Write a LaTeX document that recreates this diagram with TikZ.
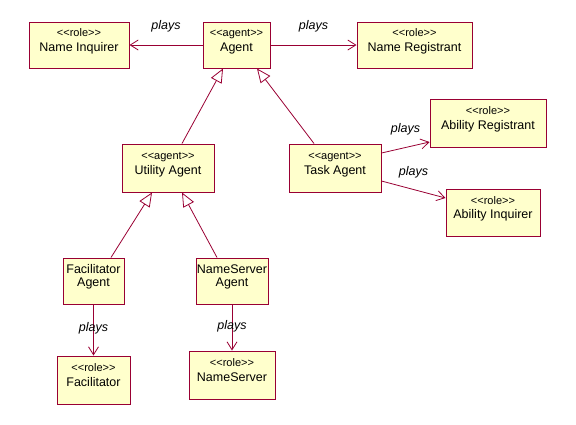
\documentclass[tikz,border=0pt]{standalone}
\usepackage{fontspec}
\setmainfont{Liberation Sans}
\usetikzlibrary{arrows.meta}
\definecolor{umlline}{RGB}{153,0,51}
\definecolor{umlfill}{RGB}{255,255,204}
% box text: stereotype over name, sitting a little above the middle
\newcommand{\stereo}[2]{\raisebox{0pt}[\height][\dimexpr\depth+7pt\relax]{%
  \begin{tabular}{@{}c@{}}{\fontsize{11}{12}\selectfont<{}<#1>{}>}\\[1pt]#2\end{tabular}}}
\newcommand{\plain}[2]{\raisebox{0pt}[\height][\dimexpr\depth+7pt\relax]{%
  \begin{tabular}{@{}c@{}}#1\\#2\end{tabular}}}
\begin{document}
\begin{tikzpicture}[x=1pt,y=1pt,
	box/.style={draw=umlline, fill=umlfill, line width=1pt, inner sep=0pt,
		font=\fontsize{12.5}{13.5}\selectfont},
	playsarrow/.style={draw=umlline, line width=.8pt, -{Straight Barb[length=8pt,width=10pt]}},
	isa/.style={draw=umlline, line width=.8pt, -{Triangle[open,length=14pt,width=12pt]}},
	playslbl/.style={font=\fontsize{12.5}{14}\selectfont\itshape, inner sep=0pt}]
	\useasboundingbox (0,0) rectangle (576,-424);
	% top row
	\node[box, minimum width=100, minimum height=46] (ninq) at (79,-45) {\stereo{role}{Name Inquirer}};
	\node[box, minimum width=67, minimum height=46] (agent) at (236.5,-45) {\stereo{agent}{Agent}};
	\node[box, minimum width=115, minimum height=46] (nreg) at (414.5,-45) {\stereo{role}{Name Registrant}};
	% second row
	\node[box, minimum width=92, minimum height=48] (util) at (168,-168) {\stereo{agent}{Utility Agent}};
	\node[box, minimum width=92, minimum height=48] (task) at (335,-168) {\stereo{agent}{Task Agent}};
	\node[box, minimum width=116, minimum height=48] (areg) at (488,-123) {\stereo{role}{Ability Registrant}};
	\node[box, minimum width=94, minimum height=47] (ainq) at (493,-212.5) {\stereo{role}{Ability Inquirer}};
	% third row
	\node[box, minimum width=61, minimum height=46] (facag) at (93.5,-281) {\plain{Facilitator}{Agent}};
	\node[box, minimum width=72, minimum height=46] (nsag) at (232,-281) {\plain{NameServer}{Agent}};
	% bottom row
	\node[box, minimum width=73, minimum height=48] (fac) at (93.5,-380) {\stereo{role}{Facilitator}};
	\node[box, minimum width=86, minimum height=48] (ns) at (232,-375) {\stereo{role}{NameServer}};
	% plays
	\draw[playsarrow] (agent.west) -- node[playslbl, yshift=19pt] (p1) {plays} (ninq.east);
	\draw[playsarrow] (agent.east) -- node[playslbl, yshift=19pt] (p2) {plays} (nreg.west);
	\draw[playsarrow] ([yshift=15pt]task.east) -- node[playslbl, yshift=18pt] (p3) {plays} ([yshift=-19pt]areg.west);
	\draw[playsarrow] ([yshift=-13pt]task.east) -- node[playslbl, yshift=17pt] (p4) {plays} ([yshift=14.5pt]ainq.west);
	\draw[playsarrow] (facag.south) -- node[playslbl, yshift=2pt] (p5) {plays} (fac.north);
	\draw[playsarrow] (nsag.south) -- node[playslbl, yshift=1pt] (p6) {plays} (ns.north);
	% generalisation
	\draw[isa] ([xshift=14pt]util.north) -- ([xshift=-13.5pt]agent.south);
	\draw[isa] ([xshift=-21pt]task.north) -- ([xshift=20.5pt]agent.south);
	\draw[isa] ([xshift=17.5pt]facag.north) -- ([xshift=-16pt]util.south);
	\draw[isa] ([xshift=-15pt]nsag.north) -- ([xshift=14pt]util.south);
\end{tikzpicture}
\end{document}
